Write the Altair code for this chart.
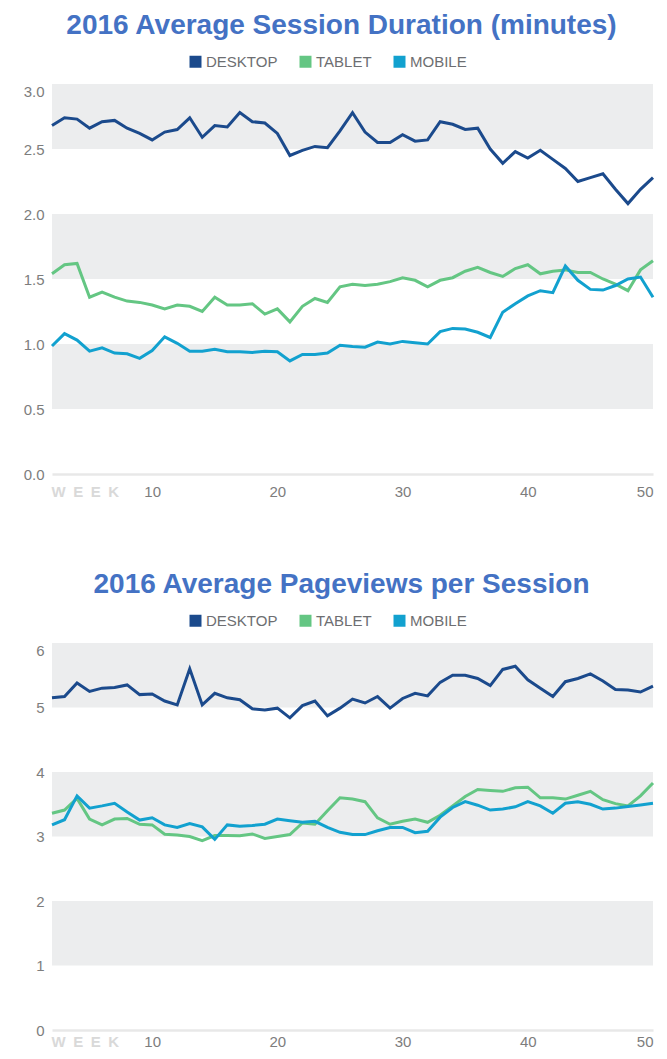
import altair as alt
import pandas as pd

weeks = list(range(2, 51))
series = ["DESKTOP", "TABLET", "MOBILE"]
colors = ["#1b4a8c", "#64c683", "#12a1cf"]

dur_desktop = [2.68, 2.74, 2.73, 2.66, 2.71, 2.72, 2.66, 2.62, 2.57, 2.63,
               2.65, 2.74, 2.59, 2.68, 2.67, 2.78, 2.71, 2.70, 2.62, 2.45,
               2.49, 2.52, 2.51, 2.64, 2.78, 2.63, 2.55, 2.55, 2.61, 2.56,
               2.57, 2.71, 2.69, 2.65, 2.66, 2.50, 2.39, 2.48, 2.43, 2.49,
               2.42, 2.35, 2.25, 2.28, 2.31, 2.19, 2.08, 2.19, 2.28]
dur_tablet = [1.54, 1.61, 1.62, 1.36, 1.40, 1.36, 1.33, 1.32, 1.30, 1.27,
              1.30, 1.29, 1.25, 1.36, 1.30, 1.30, 1.31, 1.23, 1.27, 1.17,
              1.29, 1.35, 1.32, 1.44, 1.46, 1.45, 1.46, 1.48, 1.51, 1.49,
              1.44, 1.49, 1.51, 1.56, 1.59, 1.55, 1.52, 1.58, 1.61, 1.54,
              1.56, 1.57, 1.55, 1.55, 1.50, 1.46, 1.41, 1.57, 1.64]
dur_mobile = [0.985, 1.08, 1.03, 0.945, 0.97, 0.93, 0.925, 0.89, 0.95, 1.055,
              1.005, 0.945, 0.945, 0.96, 0.94, 0.94, 0.935, 0.945, 0.94, 0.87,
              0.92, 0.92, 0.93, 0.99, 0.98, 0.975, 1.015, 1.0, 1.02, 1.01,
              1.0, 1.095, 1.12, 1.115, 1.09, 1.05, 1.245, 1.31, 1.37, 1.41,
              1.395, 1.60, 1.49, 1.42, 1.415, 1.45, 1.50, 1.515, 1.36]

pv_desktop = [5.15, 5.17, 5.38, 5.25, 5.30, 5.31, 5.35, 5.20, 5.21, 5.10,
              5.04, 5.60, 5.04, 5.22, 5.15, 5.12, 4.98, 4.96, 4.99, 4.84,
              5.03, 5.10, 4.87, 4.99, 5.13, 5.07, 5.17, 4.99, 5.14, 5.22,
              5.18, 5.39, 5.50, 5.50, 5.45, 5.34, 5.59, 5.64, 5.43, 5.30,
              5.17, 5.40, 5.45, 5.52, 5.41, 5.28, 5.27, 5.24, 5.33]
pv_tablet = [3.36, 3.41, 3.59, 3.27, 3.18, 3.27, 3.28, 3.19, 3.18, 3.035,
             3.025, 3.0, 2.935, 3.015, 3.015, 3.01, 3.04, 2.97, 3.0, 3.03,
             3.21, 3.19, 3.40, 3.60, 3.58, 3.54, 3.29, 3.19, 3.235, 3.27,
             3.22, 3.33, 3.475, 3.62, 3.73, 3.715, 3.70, 3.755, 3.765, 3.60,
             3.60, 3.58, 3.64, 3.70, 3.57, 3.51, 3.475, 3.63, 3.83]
pv_mobile = [3.18, 3.26, 3.63, 3.44, 3.475, 3.515, 3.38, 3.255, 3.29, 3.18,
             3.14, 3.20, 3.15, 2.955, 3.18, 3.16, 3.17, 3.19, 3.27, 3.245,
             3.22, 3.235, 3.14, 3.065, 3.03, 3.03, 3.09, 3.14, 3.14, 3.06,
             3.08, 3.30, 3.45, 3.54, 3.485, 3.41, 3.425, 3.46, 3.54, 3.475,
             3.36, 3.515, 3.54, 3.50, 3.425, 3.44, 3.465, 3.49, 3.515]

x_ticks = [10, 20, 30, 40, 50]
dur_ticks = [0.0, 0.5, 1.0, 1.5, 2.0, 2.5, 3.0]
pv_ticks = [0, 1, 2, 3, 4, 5, 6]
dur_band_lo = [0.5, 1.5, 2.5]
dur_band_hi = [1.0, 2.0, 3.0]
pv_band_lo = [1, 3, 5]
pv_band_hi = [2, 4, 6]

TITLE_COLOR = "#4472c4"
LABEL_COLOR = "#7d7d7d"
BAND_COLOR = "#ecedee"
FONT = "Liberation Sans"
W = 601


def make_panel(title, d, t, m, ticks, band_lo, band_hi, ymax, fmt, height, xpad):
    rows = []
    for name, vals in zip(series, [d, t, m]):
        for w, v in zip(weeks, vals):
            rows.append({"week": w, "value": v, "series": name})
    df = pd.DataFrame(rows)
    bands = pd.DataFrame({"bx0": [weeks[0]] * len(band_lo),
                          "bx1": [weeks[-1]] * len(band_lo),
                          "value": band_lo, "value2": band_hi})

    xscale = alt.Scale(domain=[weeks[0], weeks[-1]], nice=False, zero=False)
    yscale = alt.Scale(domain=[0, ymax], nice=False)
    xaxis = alt.Axis(values=x_ticks, format="d", labelFlush=True, ticks=False,
                     tickSize=0, grid=False, domainColor="#e8e8e8", domainWidth=2.5,
                     labelPadding=xpad, labelFontSize=15, labelColor=LABEL_COLOR,
                     labelFont=FONT, labelBaseline="top",
                     title="W\u2002E\u2002E\u2002K", titleFontSize=15,
                     titleFont=FONT, titleFontWeight="bold", titleColor="#d9d9d9",
                     titleAnchor="start", titleAlign="left", titleBaseline="top",
                     titleX=-1, titleY=xpad)
    yaxis = alt.Axis(values=ticks, format=fmt, domain=False, ticks=False, grid=False,
                     labelPadding=8, minExtent=44, maxExtent=44, labelFontSize=15,
                     labelColor=LABEL_COLOR, labelFont=FONT, title=None,
                     labelBaseline={"condition": {"test": f"datum.value >= {ymax - 0.01}",
                                                  "value": "top"},
                                    "value": "middle"})

    band = alt.Chart(bands).mark_rect(color=BAND_COLOR).encode(
        x=alt.X("bx0:Q", scale=xscale, axis=xaxis),
        x2="bx1",
        y=alt.Y("value:Q", scale=yscale, axis=yaxis),
        y2="value2",
    )
    lines = alt.Chart(df).mark_line(strokeWidth=3).encode(
        x=alt.X("week:Q", scale=xscale, axis=xaxis),
        y=alt.Y("value:Q", scale=yscale, axis=yaxis),
        color=alt.Color("series:N", scale=alt.Scale(domain=series, range=colors),
                        sort=series,
                        legend=alt.Legend(orient="none", legendX=136, legendY=-30,
                                          direction="horizontal", title=None,
                                          symbolType="square", symbolSize=36,
                                          symbolStrokeWidth=6, labelFontSize=15,
                                          labelColor="#6d6e71", labelFont=FONT,
                                          columnPadding=12, labelOffset=3,
                                          padding=0)),
        order=alt.Order("series_order:Q"),
    ).transform_calculate(
        series_order="indexof(['DESKTOP','TABLET','MOBILE'], datum.series)"
    )
    return alt.layer(band, lines).properties(
        width=W, height=height,
        title=alt.TitleParams(title, fontSize=28, font=FONT, fontWeight="bold",
                              color=TITLE_COLOR, anchor="middle", offset=14, dx=-11),
    )


top = make_panel("2016 Average Session Duration (minutes)", dur_desktop, dur_tablet,
                 dur_mobile, dur_ticks, dur_band_lo, dur_band_hi, 3.0, ".1f", 390, 10)
bottom = make_panel("2016 Average Pageviews per Session", pv_desktop, pv_tablet,
                    pv_mobile, pv_ticks, pv_band_lo, pv_band_hi, 6, "d", 387, 4)

chart = alt.vconcat(top, bottom, spacing=72).resolve_scale(color="independent").properties(
    padding={"top": 4, "bottom": 3, "left": 0, "right": 0}
).configure_view(stroke=None)

chart.save("out.html", embed_options={"renderer": "svg", "actions": False})
